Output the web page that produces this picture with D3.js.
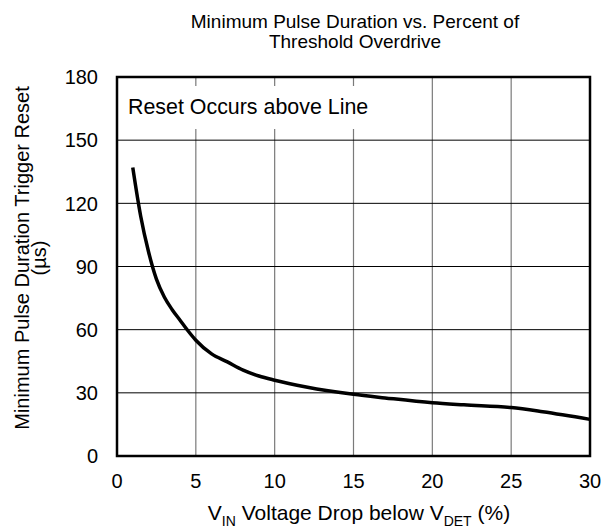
<!DOCTYPE html>
<html>
<head>
<meta charset="utf-8">
<script src="https://cdn.jsdelivr.net/npm/d3@7"></script>
<style>
  body { margin: 0; background: #fff; }
  text { font-family: "Liberation Sans", Arial, sans-serif; fill: #000; }
</style>
</head>
<body>
<script>
// curve
var drop_pct = [1, 1.5, 2, 2.5, 3, 3.5, 4, 4.5, 5, 6, 7, 8, 9, 10, 12, 15, 17, 20, 22, 25, 27, 30];
var pulse_us = [137, 114, 97, 84, 75.5, 69.5, 64.5, 59.5, 55, 48.5, 44.7, 40.8, 38, 36, 32.8, 29.3, 27.6, 25.3, 24.3, 23, 21, 17.4];

var x_ticks = [0, 5, 10, 15, 20, 25, 30];
var y_ticks = [0, 30, 60, 90, 120, 150, 180];

var width = 606, height = 530;
var plot_l = 117, plot_r = 590, plot_t = 77, plot_b = 456;

var svg = d3.select("body").append("svg")
    .attr("width", width)
    .attr("height", height);

var x = d3.scaleLinear().domain([0, 30]).range([plot_l, plot_r]);
var y = d3.scaleLinear().domain([0, 180]).range([plot_b, plot_t]);

// grid
svg.selectAll(".vgrid")
    .data(x_ticks.slice(1, -1))
    .enter()
    .append("line")
        .attr("x1", function(d) { return x(d); })
        .attr("x2", function(d) { return x(d); })
        .attr("y1", plot_t)
        .attr("y2", plot_b)
        .style("stroke", "#7a7a7a")
        .style("stroke-width", 1.2);

svg.selectAll(".hgrid")
    .data(y_ticks.slice(1, -1))
    .enter()
    .append("line")
        .attr("x1", plot_l)
        .attr("x2", plot_r)
        .attr("y1", function(d) { return y(d); })
        .attr("y2", function(d) { return y(d); })
        .style("stroke", "#000")
        .style("stroke-width", 1);

// note box hides the grid behind it
svg.append("rect")
    .attr("x", plot_l + 1)
    .attr("y", 86)
    .attr("width", 262)
    .attr("height", 43)
    .style("fill", "#fff");

svg.append("text")
    .attr("x", 128)
    .attr("y", 114)
    .style("font-size", "21.4px")
    .text("Reset Occurs above Line");

// the curve
var line = d3.line()
    .x(function(d, i) { return x(drop_pct[i]); })
    .y(function(d) { return y(d); })
    .curve(d3.curveMonotoneX);

svg.append("path")
    .datum(pulse_us)
    .attr("d", line)
    .style("fill", "none")
    .style("stroke", "#000")
    .style("stroke-width", 3.5);

// frame
svg.append("rect")
    .attr("x", plot_l)
    .attr("y", plot_t)
    .attr("width", plot_r - plot_l)
    .attr("height", plot_b - plot_t)
    .style("fill", "none")
    .style("stroke", "#000")
    .style("stroke-width", 2.5);

// tick labels
svg.selectAll(".xlab")
    .data(x_ticks)
    .enter()
    .append("text")
        .attr("x", function(d) { return x(d); })
        .attr("y", 488)
        .attr("text-anchor", "middle")
        .style("font-size", "20px")
        .text(function(d) { return d; });

svg.selectAll(".ylab")
    .data(y_ticks)
    .enter()
    .append("text")
        .attr("x", 98)
        .attr("y", function(d) { return y(d); })
        .attr("dy", "0.36em")
        .attr("text-anchor", "end")
        .style("font-size", "20px")
        .text(function(d) { return d; });

// title
var title = svg.append("text")
    .attr("text-anchor", "middle")
    .style("font-size", "19px");
title.append("tspan").attr("x", 355).attr("y", 28).text("Minimum Pulse Duration vs. Percent of");
title.append("tspan").attr("x", 355).attr("y", 48).text("Threshold Overdrive");

// x axis title with subscripts
var xt = svg.append("text")
    .attr("x", 359)
    .attr("y", 520)
    .attr("text-anchor", "middle")
    .style("font-size", "21px");
xt.append("tspan").text("V");
xt.append("tspan").attr("dy", 6).style("font-size", "14px").text("IN");
xt.append("tspan").attr("dy", -6).text(" Voltage Drop below V");
xt.append("tspan").attr("dy", 6).style("font-size", "14px").text("DET");
xt.append("tspan").attr("dy", -6).text(" (%)");

// y axis title
var yt = svg.append("text")
    .attr("transform", "translate(0," + 258 + ") rotate(-90)")
    .attr("text-anchor", "middle")
    .style("font-size", "20px");
yt.append("tspan").attr("x", 0).attr("y", 29).text("Minimum Pulse Duration Trigger Reset");
yt.append("tspan").attr("x", 0).attr("y", 46).text("(\u00b5s)");
</script>
</body>
</html>
